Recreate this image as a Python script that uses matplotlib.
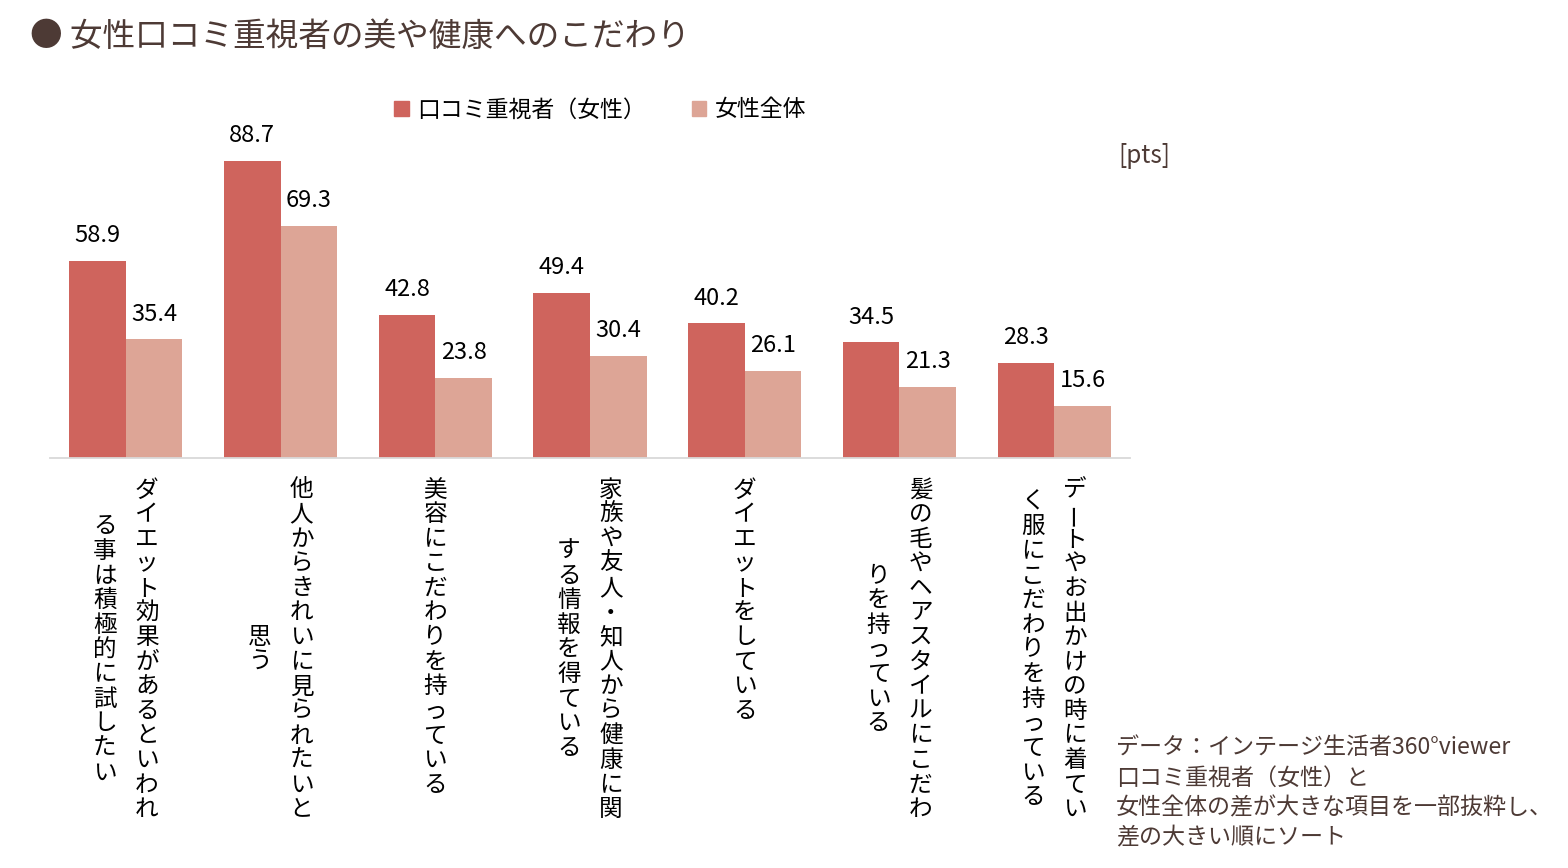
import numpy as np
import matplotlib
matplotlib.use("Agg")
import matplotlib.pyplot as plt
from matplotlib.patches import Patch

plt.rcParams['font.family'] = ['Noto Sans CJK JP', 'DejaVu Sans']

# データ
categories = [
    ["ダイエット効果があるといわれ", "る事は積極的に試したい"],
    ["他人からきれいに見られたいと", "思う"],
    ["美容にこだわりを持っている"],
    ["家族や友人・知人から健康に関", "する情報を得ている"],
    ["ダイエットをしている"],
    ["髪の毛やヘアスタイルにこだわ", "りを持っている"],
    ["デートやお出かけの時に着てい", "く服にこだわりを持っている"],
]
kuchikomi = [58.9, 88.7, 42.8, 49.4, 40.2, 34.5, 28.3]
josei_all = [35.4, 69.3, 23.8, 30.4, 26.1, 21.3, 15.6]
series_names = ["口コミ重視者（女性）", "女性全体"]

c_dark = "#CF645D"
c_light = "#DDA596"
brown = "#4D3A35"

W, H = 1568, 868
fig = plt.figure(figsize=(W / 100, H / 100), dpi=100)
ax = fig.add_axes([50 / W, 1 - 458 / H, 1080 / W, 334.8 / H])

x = np.arange(len(categories))
bw = 0.366
b1 = ax.bar(x - bw / 2, kuchikomi, bw, color=c_dark)
b2 = ax.bar(x + bw / 2, josei_all, bw, color=c_light)
ax.bar_label(b1, fmt="%.1f", padding=10, fontsize=17, color="black")
ax.bar_label(b2, fmt="%.1f", padding=10, fontsize=17, color="black")

ax.set_xlim(-0.49, len(categories) - 0.51)
ax.set_ylim(0, 100)
for s in ["top", "right", "left"]:
    ax.spines[s].set_visible(False)
ax.spines["bottom"].set_color("#D9D9D9")
ax.spines["bottom"].set_linewidth(1.3)
ax.set_xticks([])
ax.set_yticks([])

# 縦書きラベル
step = 24.6
first = -32
for i, cols in enumerate(categories):
    L = max(len(c) for c in cols)
    ncol = len(cols)
    for j, col in enumerate(cols):
        dx = (ncol - 1) / 2 * 42 - j * 42
        off = (L - len(col)) / 2
        for k, ch in enumerate(col):
            rot = 90 if ch == "ー" else 0
            ax.annotate(ch, xy=(i, 0), xytext=(dx, first - (k + off) * step),
                        textcoords="offset pixels", ha="center", va="center",
                        fontsize=17, color="black", rotation=rot,
                        annotation_clip=False)

# タイトル
fig.text(30 / W, 1 - 37 / H, "● 女性口コミ重視者の美や健康へのこだわり",
         fontsize=23.5, color=brown, ha="left", va="center")

# 凡例
handles = [Patch(color=c_dark), Patch(color=c_light)]
fig.legend(handles, series_names, loc="center", bbox_to_anchor=(600 / W, 1 - 110 / H),
           ncol=2, frameon=False, fontsize=16.5, handlelength=0.65, handleheight=0.65,
           handletextpad=0.35, columnspacing=2.0)

fig.text(1144 / W, 1 - 156 / H, "[pts]", fontsize=17.5, color=brown, ha="center", va="center")

notes = ["データ：インテージ生活者360°viewer",
         "口コミ重視者（女性）と",
         "女性全体の差が大きな項目を一部抜粋し、",
         "差の大きい順にソート"]
for n, line in enumerate(notes):
    fig.text(1116 / W, 1 - (748 + 30 * n) / H, line, fontsize=16.6, color=brown,
             ha="left", va="center")

fig.savefig("out.png", dpi=100)
